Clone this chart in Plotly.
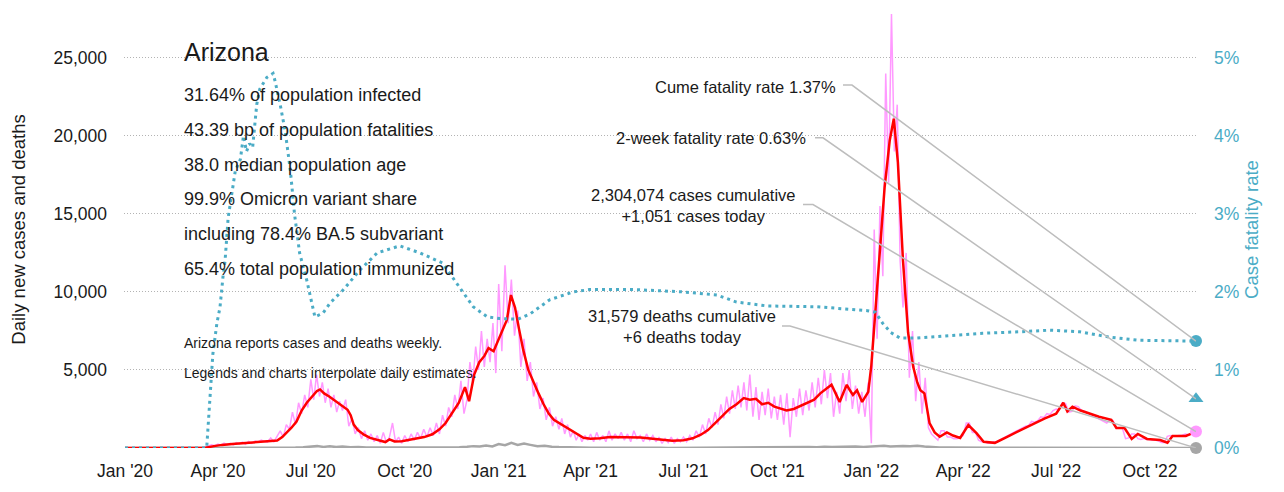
import pandas as pd
import plotly.graph_objects as go

END = "2022-11-15"

# ---- 7-day average of new cases (red) ----
red_dates = [
    "2020-01-01", "2020-03-10", "2020-03-20", "2020-03-28", "2020-04-05", "2020-04-15", "2020-04-25",
    "2020-05-05", "2020-05-15", "2020-05-25", "2020-05-29", "2020-06-03", "2020-06-08", "2020-06-12",
    "2020-06-17", "2020-06-22", "2020-06-27", "2020-07-02", "2020-07-07", "2020-07-10", "2020-07-14",
    "2020-07-19", "2020-07-24", "2020-07-29", "2020-08-02", "2020-08-06", "2020-08-09", "2020-08-12",
    "2020-08-16", "2020-08-22", "2020-08-28", "2020-09-05", "2020-09-12", "2020-09-16", "2020-09-21",
    "2020-09-28", "2020-10-05", "2020-10-12", "2020-10-20", "2020-10-28", "2020-11-04", "2020-11-10",
    "2020-11-17", "2020-11-23", "2020-11-29", "2020-12-03", "2020-12-08", "2020-12-13", "2020-12-18",
    "2020-12-22", "2020-12-27", "2021-01-01", "2021-01-05", "2021-01-09", "2021-01-13", "2021-01-17",
    "2021-01-21", "2021-01-25", "2021-01-30", "2021-02-04", "2021-02-09", "2021-02-14", "2021-02-19",
    "2021-02-24", "2021-03-01", "2021-03-07", "2021-03-13", "2021-03-19", "2021-03-25", "2021-04-01",
    "2021-04-10", "2021-04-20", "2021-05-01", "2021-05-10", "2021-05-20", "2021-06-01", "2021-06-10",
    "2021-06-20", "2021-07-01", "2021-07-10", "2021-07-18", "2021-07-25", "2021-08-01", "2021-08-08",
    "2021-08-15", "2021-08-22", "2021-08-29", "2021-09-04", "2021-09-10", "2021-09-16", "2021-09-22",
    "2021-09-28", "2021-10-04", "2021-10-10", "2021-10-17", "2021-10-24", "2021-10-31", "2021-11-06",
    "2021-11-12", "2021-11-18", "2021-11-23", "2021-11-27", "2021-12-01", "2021-12-05", "2021-12-08",
    "2021-12-11", "2021-12-14", "2021-12-18", "2021-12-23", "2021-12-29", "2022-01-01", "2022-01-05",
    "2022-01-09", "2022-01-14", "2022-01-17", "2022-01-19", "2022-01-23", "2022-01-27", "2022-02-01",
    "2022-02-06", "2022-02-11", "2022-02-15", "2022-02-18", "2022-02-22", "2022-02-27", "2022-03-04",
    "2022-03-09", "2022-03-16", "2022-03-22", "2022-03-29", "2022-04-06", "2022-04-14", "2022-04-21",
    "2022-05-02", "2022-05-14", "2022-05-27", "2022-06-08", "2022-06-20", "2022-07-01", "2022-07-08",
    "2022-07-12", "2022-07-17", "2022-07-25", "2022-08-05", "2022-08-12", "2022-08-24", "2022-08-29",
    "2022-09-06", "2022-09-13", "2022-09-19", "2022-09-28", "2022-10-11", "2022-10-18", "2022-10-23",
    "2022-11-05", "2022-11-10", "2022-11-15",
]
red_vals = [
    0, 0, 20, 120, 200, 250, 300,
    370, 430, 450, 480, 700, 1000, 1300,
    1700, 2400, 2900, 3300, 3650, 3750, 3500,
    3300, 3050, 2850, 2600, 2450, 2100, 1500,
    1150, 850, 650, 480, 380, 550, 420,
    430, 520, 620, 700, 880, 1200, 1600,
    2300, 2900, 3900, 3000, 4700, 5500, 5900,
    6400, 6200, 7000, 7600, 8200, 9800, 9000,
    7600, 6300, 5000, 4200, 3500, 2800, 2200,
    1800, 1600, 1350, 1100, 850, 650, 600,
    620, 700, 700, 720, 680, 600, 520,
    470, 500, 620, 850, 1150, 1600, 2050,
    2500, 2800, 3200, 3100, 3150, 2800, 2900,
    2650, 2500, 2400, 2500, 2700, 2900, 3100,
    3500, 3800, 4050, 3500, 2950, 3600, 4050,
    3700, 3400, 3700, 2950, 3600, 5300, 8800,
    12500, 16700, 18500, 19700, 21100, 18300, 12000,
    7400, 5200, 4200, 3700, 3500, 1600, 1000,
    720, 1000, 800, 640, 1470, 950, 400,
    330, 720, 1150, 1500, 1900, 2200, 2900,
    2350, 2650, 2400, 2150, 2000, 1800, 1280,
    1280, 580, 900, 580, 510, 340, 770,
    770, 900, 1051,
]

# ---- daily reported new cases (pink), one list per month ----
pink_2020 = [
    [0, 0, 0, 0, 0, 0, 0, 0, 0, 0],
    [0, 0, 0, 0, 0, 0, 0, 0, 0, 0],
    [0, 0, 5, 10, 20, 40, 60, 150, 200, 150],
    [250, 180, 320, 220, 300, 200, 350, 260, 380, 240],
    [420, 300, 450, 380, 500, 420, 380, 650, 400, 750],
    [1100, 700, 1500, 1200, 2300, 1500, 2900, 2200, 3400, 2600],
    [4400, 3100, 4700, 3300, 4200, 2900, 3800, 2600, 3400, 2300, 3000],
    [2400, 3100, 1400, 1900, 900, 1300, 600, 1100, 500, 900],
    [400, 800, 300, 1000, 350, 700, 1600, 400, 700, 300],
    [800, 400, 900, 500, 1000, 600, 1200, 700, 1300, 800],
    [1600, 900, 2100, 1400, 2600, 2000, 3400, 2500, 4300, 2200],
    [3100, 5500, 4200, 6500, 5000, 7500, 5200, 7000, 5500, 8000, 4800],
]
pink_2021 = [
    [10500, 6200, 11700, 8000, 10800, 7200, 8800, 5200, 7000, 4300],
    [5500, 3300, 4200, 2500, 3200, 1800, 2600, 1400, 2000],
    [1200, 1900, 900, 1500, 700, 1100, 500, 900, 400, 800, 500],
    [900, 400, 1000, 500, 800, 400, 1100, 500, 900, 600],
    [1000, 500, 900, 400, 1100, 600, 800, 400, 900, 500],
    [800, 400, 700, 300, 600, 350, 700, 300, 600, 400],
    [700, 400, 800, 500, 1100, 700, 1500, 900, 1900, 1300],
    [2300, 1500, 2800, 1900, 3300, 2200, 3700, 2500, 4000, 2600, 4200],
    [2400, 4700, 2000, 3900, 1800, 3600, 2100, 3800, 1900, 3300],
    [1800, 3400, 1500, 3500, 700, 3200, 2000, 3800, 2100, 3700],
    [2400, 4200, 2600, 4500, 2800, 5000, 3200, 4800, 2000, 3600],
    [2200, 4800, 3000, 5000, 2500, 4000, 2200, 3600, 2000, 4200],
]
pink_2022 = [
    [300, 14000, 7000, 15500, 11000, 24000, 17000, 27800, 19000, 22000, 12000],
    [9000, 12500, 4500, 7500, 3000, 5500, 2200, 4500, 1300],
    [900, 700, 500, 1100, 1100, 700, 700, 600, 600, 700],
    [800, 1600, 1600, 1000, 1000, 500, 400, 400, 300, 300],
    [400, 400, 500, 650, 700, 850, 900, 1050, 1100, 1250, 1300],
    [1400, 1450, 1700, 1650, 1750, 2000, 1950, 2200, 2150, 2400],
    [2500, 2450, 2900, 2850, 2300, 2350, 2700, 2650, 2400, 2350],
    [2250, 2100, 2050, 1900, 1850, 1700, 1600, 1800, 1750, 1300],
    [1300, 1250, 600, 650, 900, 900, 600, 550, 600, 550],
    [550, 500, 500, 450, 350, 350, 750, 800, 750, 750, 800],
    [800, 900, 850, 950, 1051],
]

# ---- daily deaths (gray), one list per month ----
deaths_2020 = [
    [0, 0, 0, 0], [0, 0, 0, 0], [0, 0, 2, 5], [15, 25, 20, 30, 25], [20, 35, 25, 30],
    [20, 35, 30, 50], [80, 120, 70, 110, 60], [90, 50, 70, 30], [30, 15, 25, 10],
    [15, 25, 10, 20], [25, 40, 30, 50], [80, 120, 90, 160, 100],
]
deaths_2021 = [
    [250, 180, 330, 200, 280], [200, 120, 150, 80], [60, 40, 50, 20], [20, 10, 25, 10],
    [15, 10, 20, 10], [10, 15, 5, 10], [15, 10, 20, 10], [30, 20, 40, 25], [60, 40, 70, 50],
    [60, 40, 70, 50], [70, 50, 80, 60], [80, 60, 100, 70],
]
deaths_2022 = [
    [100, 80, 140, 90, 120], [130, 110, 140, 90], [40, 30, 30, 20], [15, 15, 10, 10],
    [10, 10, 10, 10], [10, 10, 15, 15], [15, 15, 20, 15], [15, 15, 15, 10], [10, 10, 10, 10],
    [8, 8, 6, 6], [6, 6],
]

# ---- case fatality rate, % (blue dotted) ----
cfr_dates = [
    "2020-01-01", "2020-03-21", "2020-03-24", "2020-03-27", "2020-03-31", "2020-04-03", "2020-04-06",
    "2020-04-08", "2020-04-11", "2020-04-16", "2020-04-18", "2020-04-23", "2020-04-26", "2020-04-29",
    "2020-05-02", "2020-05-05", "2020-05-09", "2020-05-12", "2020-05-19", "2020-05-25", "2020-05-27",
    "2020-06-01", "2020-06-06", "2020-06-11", "2020-06-15", "2020-06-20", "2020-06-27", "2020-07-05",
    "2020-07-13", "2020-07-20", "2020-08-02", "2020-08-18", "2020-09-04", "2020-09-26", "2020-10-16",
    "2020-11-07", "2020-11-21", "2020-12-07", "2020-12-21", "2021-01-02", "2021-01-20", "2021-02-01",
    "2021-02-20", "2021-03-15", "2021-03-31", "2021-05-15", "2021-07-01", "2021-08-03", "2021-08-22",
    "2021-09-21", "2021-11-09", "2021-12-28", "2022-01-05", "2022-01-12", "2022-01-20", "2022-01-29",
    "2022-02-15", "2022-03-19", "2022-04-20", "2022-05-27", "2022-06-25", "2022-07-24", "2022-08-23",
    "2022-09-21", "2022-11-15",
]
cfr_vals = [
    0, 0, 0.6, 1.2, 1.6, 1.8, 2.2,
    2.4, 2.95, 3.35, 3.55, 3.7, 4.0, 3.8,
    3.9, 3.85, 4.4, 4.6, 4.75, 4.8, 4.7,
    4.4, 4.05, 3.55, 3.0, 2.5, 2.15, 1.68,
    1.73, 1.86, 2.03, 2.28, 2.5, 2.59, 2.5,
    2.37, 2.11, 1.81, 1.68, 1.66, 1.65, 1.72,
    1.9, 2.0, 2.03, 2.03, 2.0, 1.96, 1.87,
    1.82, 1.81, 1.76, 1.74, 1.6, 1.48, 1.41,
    1.41, 1.44, 1.47, 1.49, 1.51, 1.49, 1.42,
    1.38, 1.37,
]

# ---- headline figures ----
state = "Arizona"
stats_lines = [
    "31.64% of population infected",
    "43.39 bp of population fatalities",
    "38.0 median population age",
    "99.9% Omicron variant share",
    "including 78.4% BA.5 subvariant",
    "65.4% total population immunized",
]
note_lines = [
    "Arizona reports cases and deaths weekly.",
    "Legends and charts interpolate daily estimates.",
]
cases_cumulative = "2,304,074"
cases_today = 1051
deaths_cumulative = "31,579"
deaths_today = 6
cfr_cume = 1.37
cfr_2wk = 0.63
case_ticks = [5000, 10000, 15000, 20000, 25000]
cfr_ticks = [0, 1, 2, 3, 4, 5]


def month_series(year, months, end):
    xs, ys = [], []
    end_ts = pd.Timestamp(end)
    for m, vals in enumerate(months, start=1):
        start = pd.Timestamp(year=year, month=m, day=1)
        stop = start + pd.offsets.MonthEnd(0)
        n = len(vals)
        if stop >= end_ts:
            span = end_ts - start
            dates = [start + span * (k / (n - 1)) for k in range(n)]
        else:
            span = stop - start + pd.Timedelta(days=1)
            dates = [start + span * (k / n) for k in range(n)]
        xs += dates
        ys += vals
    return xs, ys


px_, py_ = [], []
for yr, months in ((2020, pink_2020), (2021, pink_2021), (2022, pink_2022)):
    a, b = month_series(yr, months, END)
    px_ += a
    py_ += b
dx_, dy_ = [], []
for yr, months in ((2020, deaths_2020), (2021, deaths_2021), (2022, deaths_2022)):
    a, b = month_series(yr, months, END)
    dx_ += a
    dy_ += b

# page has an 8px body margin, so the figure is 8px smaller than the window
W, H = 1276, 484
L, R, T, B = 116, 88, 3, 44
PW, PH = W - L - R, H - T - B


def fx(xpage):
    return (xpage - 8 - L) / PW


def fy(ypage):
    return (H - B - (ypage - 8)) / PH


FONT = "Liberation Sans, Arial, sans-serif"
TEAL = "#4bacc6"
PINK = "#ff99ff"
GRAY = "#a6a6a6"
INK = "#1a1a1a"
LEAD = "#bdbdbd"

fig = go.Figure()
fig.add_trace(go.Scatter(x=px_, y=py_, mode="lines", line=dict(color=PINK, width=1.5), hoverinfo="skip"))
fig.add_trace(go.Scatter(x=dx_, y=dy_, mode="lines", line=dict(color=GRAY, width=2.5), hoverinfo="skip"))
fig.add_trace(go.Scatter(x=red_dates, y=red_vals, mode="lines", line=dict(color="#ff0000", width=2.5), hoverinfo="skip"))
fig.add_trace(go.Scatter(x=cfr_dates, y=cfr_vals, yaxis="y2", mode="lines",
                         line=dict(color=TEAL, width=3, dash="3px,4px"), hoverinfo="skip"))

# end markers
fig.add_trace(go.Scatter(x=[END], y=[cfr_cume], yaxis="y2", mode="markers", cliponaxis=False,
                         marker=dict(color=TEAL, size=12, symbol="circle")))
fig.add_trace(go.Scatter(x=[END], y=[cfr_2wk], yaxis="y2", mode="markers", cliponaxis=False,
                         marker=dict(color=TEAL, size=13, symbol="triangle-up")))
fig.add_trace(go.Scatter(x=[END], y=[cases_today], mode="markers", cliponaxis=False,
                         marker=dict(color=PINK, size=12, symbol="circle")))
fig.add_trace(go.Scatter(x=[END], y=[deaths_today], mode="markers", cliponaxis=False,
                         marker=dict(color=GRAY, size=12, symbol="circle")))

# leader lines (pixel offsets from the end markers)
leaders = [
    ("y2", cfr_cume, "M0,0 L-344,256 L-353,256"),
    ("y2", cfr_2wk, "M0,0 L-373,261 L-381,261"),
    ("y", cases_today, "M0,0 L-383,227 L-393,227"),
    ("y", deaths_today, "M0,0 L-406,122 L-414,122"),
]
shapes = []
for yref, val, path in leaders:
    shapes.append(dict(type="path", xref="x", yref=yref, xsizemode="pixel", ysizemode="pixel",
                       xanchor=END, yanchor=val, path=path, layer="above",
                       line=dict(color=LEAD, width=1.5)))

ann = []
ann.append(dict(x=fx(182), y=fy(52), xref="paper", yref="paper", xanchor="left", yanchor="middle",
                text=state, showarrow=False, font=dict(size=25, color=INK, family=FONT)))
for i, t in enumerate(stats_lines):
    ann.append(dict(x=fx(182), y=fy(95 + 34.8 * i), xref="paper", yref="paper", xanchor="left",
                    yanchor="middle", text=t, showarrow=False, font=dict(size=18, color=INK, family=FONT)))
for i, t in enumerate(note_lines):
    ann.append(dict(x=fx(182), y=fy(343 + 30 * i), xref="paper", yref="paper", xanchor="left",
                    yanchor="middle", text=t, showarrow=False, font=dict(size=14, color=INK, family=FONT)))

ann.append(dict(x=fx(838), y=fy(87), xref="paper", yref="paper", xanchor="right", yanchor="middle",
                text=f"Cume fatality rate {cfr_cume:.2f}%", showarrow=False,
                font=dict(size=16.5, color=INK, family=FONT)))
ann.append(dict(x=fx(808), y=fy(138), xref="paper", yref="paper", xanchor="right", yanchor="middle",
                text=f"2-week fatality rate {cfr_2wk:.2f}%", showarrow=False,
                font=dict(size=16.5, color=INK, family=FONT)))
ann.append(dict(x=fx(693), y=fy(205), xref="paper", yref="paper", xanchor="center", yanchor="middle",
                text=f"{cases_cumulative} cases cumulative<br>+{cases_today:,} cases today", showarrow=False,
                align="center", font=dict(size=16.5, color=INK, family=FONT)))
ann.append(dict(x=fx(682), y=fy(326), xref="paper", yref="paper", xanchor="center", yanchor="middle",
                text=f"{deaths_cumulative} deaths cumulative<br>+{deaths_today} deaths today", showarrow=False,
                align="center", font=dict(size=16.5, color=INK, family=FONT)))

fig.update_layout(
    width=W, height=H,
    margin=dict(l=L, r=R, t=T, b=B, pad=0),
    paper_bgcolor="white", plot_bgcolor="white",
    showlegend=False,
    font=dict(family=FONT, size=17, color=INK),
    shapes=shapes, annotations=ann,
    xaxis=dict(range=["2019-12-31", END], type="date", tickformat="%b '%y", dtick="M3",
               tick0="2020-01-01", showgrid=False, zeroline=False, showline=False, ticks="",
               tickfont=dict(size=17.5, color=INK, family=FONT), ticklabelstandoff=10),
    yaxis=dict(range=[0, 28000], tickvals=case_ticks, ticktext=[f"{v:,}" for v in case_ticks],
               showgrid=True, gridcolor="#b3b3b3", griddash="1px,2px", gridwidth=1,
               zeroline=False, showline=False, ticks="", ticklabelstandoff=16,
               tickfont=dict(size=17.5, color=INK, family=FONT),
               title=dict(text="Daily new cases and deaths", standoff=24,
                          font=dict(size=18.5, color=INK, family=FONT))),
    yaxis2=dict(range=[0, 5.6], overlaying="y", side="right", tickvals=cfr_ticks,
                ticktext=[f"{v}%" for v in cfr_ticks], showgrid=False, zeroline=False,
                showline=False, ticks="", ticklabelstandoff=17,
                tickfont=dict(size=17.5, color=TEAL, family=FONT),
                title=dict(text="Case fatality rate", standoff=6,
                           font=dict(size=18.5, color=TEAL, family=FONT))),
)

fig.write_html("out.html")
